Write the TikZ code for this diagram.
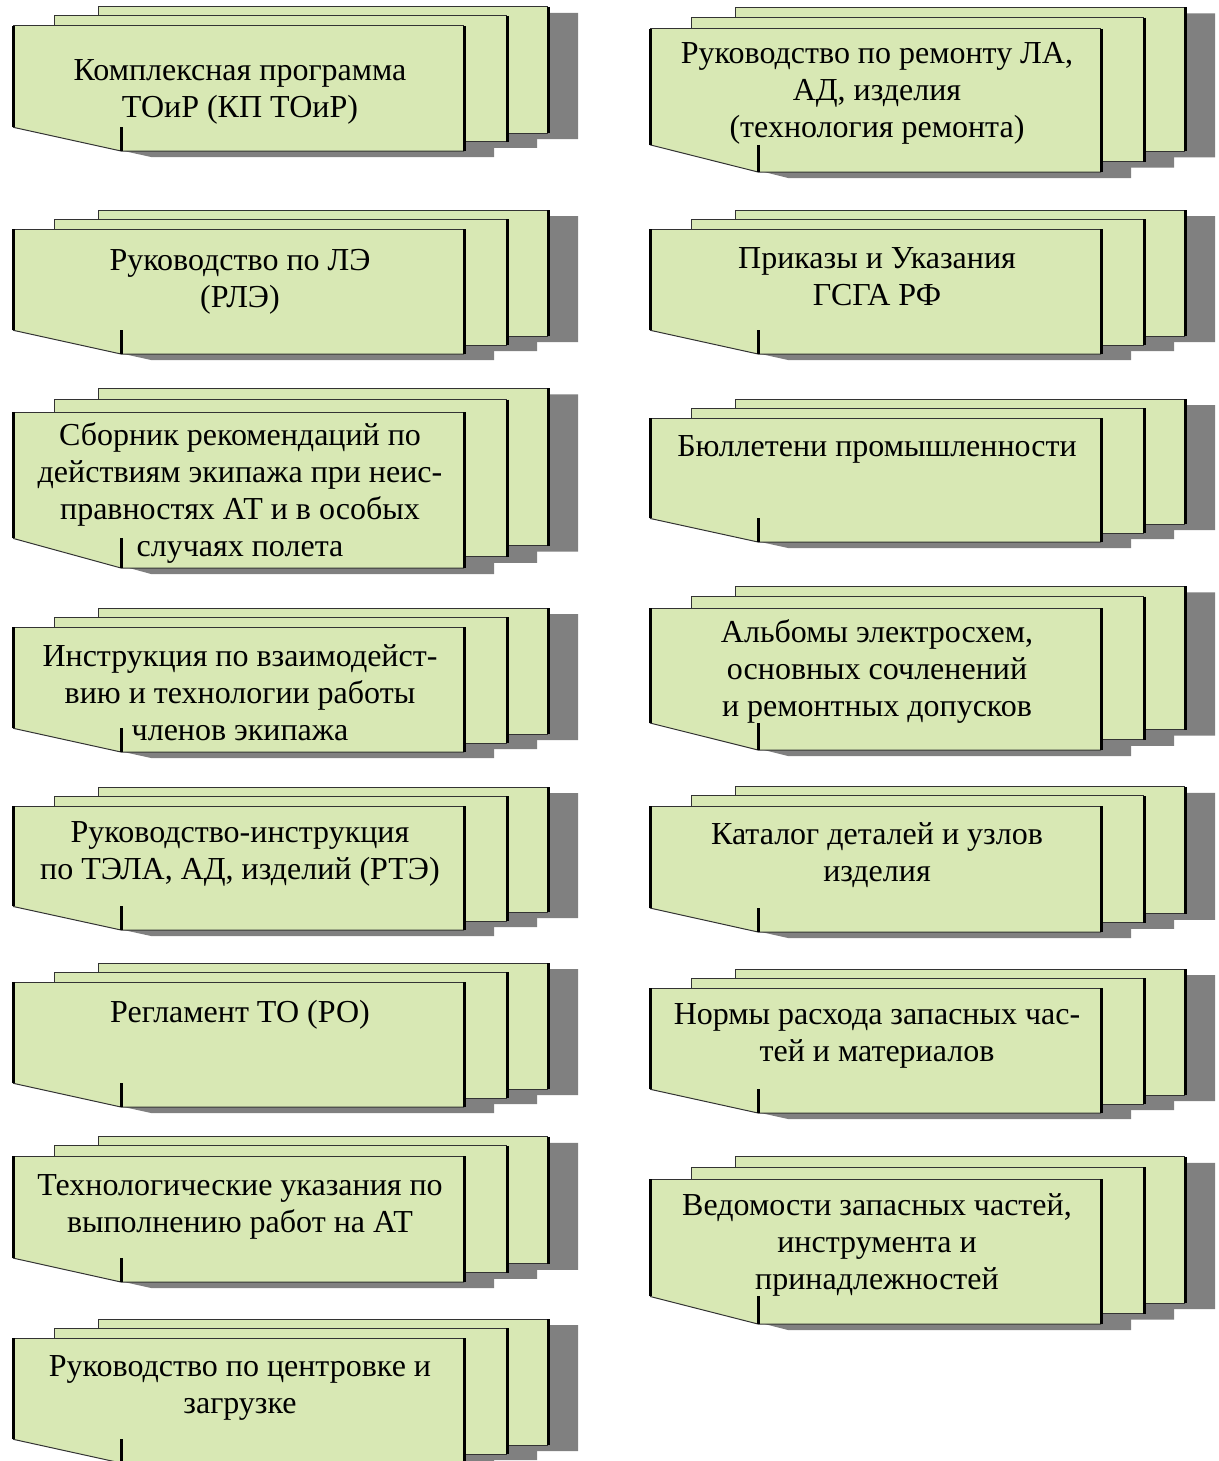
\documentclass[tikz,border=0pt]{standalone}
\usepackage{fontspec}
\setmainfont{Liberation Serif}

\definecolor{docgreen}{HTML}{D8E8B4}
\definecolor{docshadow}{HTML}{808080}

\begin{document}
\begin{tikzpicture}[
		x=1pt, y=-1pt,
		page fill/.style={fill=docgreen},
		shadow fill/.style={fill=docshadow},
		thin edge/.style={draw=black!80, line width=1pt},
		thick edge/.style={draw=black, line width=3pt},
		doc text/.style={align=center, inner sep=0pt, anchor=north, font=\fontsize{32}{37}\selectfont}
		]
		
		\useasboundingbox (0,0) rectangle (1218,1461);
		\clip (0,0) rectangle (1218,1461);
		
		% =========================================================
		% Stacked documents: name / left x / top y / height / first text line y / text
		% =========================================================
		\foreach \n/\xo/\yt/\h/\ty/\txt in {
			kp/13/26/125/70/{Комплексная программа\\ТОиР (КП ТОиР)},
			rle/13/229/125/260/{Руководство по ЛЭ\\(РЛЭ)},
			sbornik/13/412/156/435/{Сборник рекомендаций по\\действиям экипажа при неис-\\правностях АТ и в особых\\случаях полета},
			instr/13/627/125/656/{Инструкция по взаимодейст-\\вию и технологии работы\\членов экипажа},
			rte/13/806/124/832/{Руководство-инструкция\\по ТЭЛА, АД, изделий (РТЭ)},
			reg/13/982/125/1012/{Регламент ТО (РО)},
			tu/13/1156/126/1185/{Технологические указания по\\выполнению работ на АТ},
			centr/13/1338/125/1366/{Руководство по центровке и\\загрузке},
			rr/650/29/143/53/{Руководство по ремонту ЛА,\\АД, изделия\\(технология ремонта)},
			prik/650/229/125/258/{Приказы и Указания\\ГСГА РФ},
			bull/650/418/124/446/{Бюллетени промышленности},
			alb/650/608/142/632/{Альбомы электросхем,\\основных сочленений\\и ремонтных допусков},
			kat/650/806/126/834/{Каталог деталей и узлов\\изделия},
			norm/650/988/125/1014/{Нормы расхода запасных час-\\тей и материалов},
			ved/650/1179/145/1205/{Ведомости запасных частей,\\инструмента и\\принадлежностей}} {
			\pgfmathsetmacro\ya{-0.152*\h}  % back page top
			\pgfmathsetmacro\yc{-0.08*\h}   % middle page top
			\pgfmathsetmacro\yd{0.856*\h}   % back page bottom
			\pgfmathsetmacro\ye{0.928*\h}   % middle page bottom
			\pgfmathsetmacro\yf{0.81*\h}    % start of the folded corner
			\begin{scope}[shift={(\xo,\yt)}]
				% Shadow
				\begin{scope}[shift={(30,6)}]
					\fill[shadow fill] (85,\ya) -- (535,\ya) -- (535,\yd) -- (494,\yd) -- (494,\yc) -- (85,\yc) -- cycle;
					\fill[shadow fill] (41,\yc) -- (494,\yc) -- (494,\ye) -- (451,\ye) -- (451,0) -- (41,0) -- cycle;
					\fill[shadow fill] (0,0) -- (451,0) -- (451,\h) -- (108,\h) -- (0,\yf) -- cycle;
				\end{scope}
				
				% Back page
				\fill[page fill] (85,\ya) -- (535,\ya) -- (535,\yd) -- (494,\yd) -- (494,\yc) -- (85,\yc) -- cycle;
				\draw[thin edge] (85,\yc) -- (85,\ya) -- (535,\ya);
				\draw[thin edge] (494,\yd) -- (535,\yd);
				\draw[thick edge] (535,\ya) -- (535,\yd);
				
				% Middle page
				\fill[page fill] (41,\yc) -- (494,\yc) -- (494,\ye) -- (451,\ye) -- (451,0) -- (41,0) -- cycle;
				\draw[thin edge] (41,0) -- (41,\yc) -- (494,\yc);
				\draw[thin edge] (451,\ye) -- (494,\ye);
				\draw[thick edge] (494,\yc) -- (494,\ye);
				
				% Front page with folded corner
				\fill[page fill] (0,0) -- (451,0) -- (451,\h) -- (108,\h) -- (0,\yf) -- cycle;
				\draw[thin edge] (0,0) -- (451,0);
				\draw[thin edge] (0,\yf) -- (108,\h) -- (451,\h);
				\draw[thick edge] (0,0) -- (0,\yf);
				\draw[thick edge] (451,0) -- (451,\h);
				\draw[thick edge] (108,\yf) -- (108,\h);
				
				% Title
				\node[doc text] (\n) at (227,\ty-\yt-16) {\strut\txt};
			\end{scope}
		}
		
	\end{tikzpicture}
\end{document}
